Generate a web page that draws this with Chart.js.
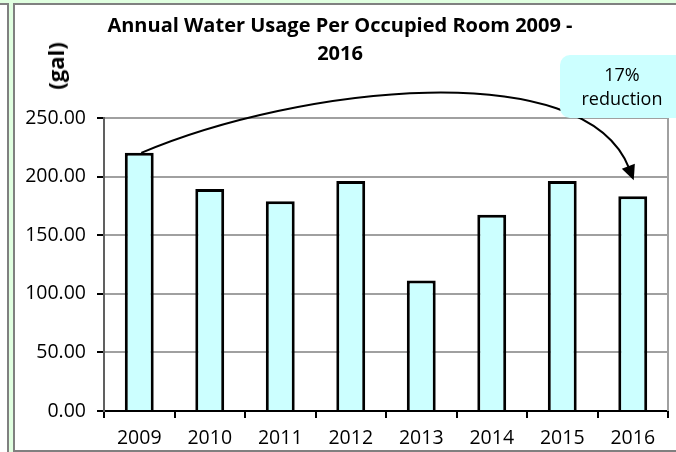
<!DOCTYPE html>
<html lang="en">
<head>
  <meta charset="UTF-8" />
  <title>Annual Water Usage Per Occupied Room</title>
  <script src="https://cdn.jsdelivr.net/npm/chart.js"></script>
  <style>
    body {
      margin: 0;
      width: 676px;
      height: 452px;
      position: relative;
      overflow: hidden;
      background: #fff;
      font-family: 'Open Sans', sans-serif;
    }
    .frame { position: absolute; }
    .green { background: #e0ffe0; }
    .gray  { background: #808080; }
    .chart-box {
      position: absolute;
      left: 15px;
      top: 5px;
      width: 661px;
      height: 445px;
      background: #fff;
    }
    .title {
      position: absolute;
      left: 0;
      width: 680px;
      text-align: center;
      font-weight: bold;
      font-size: 20px;
      line-height: 28px;
      color: #000;
    }
    .unit {
      position: absolute;
      left: 55px;
      top: 66px;
      transform: translate(-50%, -50%) rotate(-90deg);
      font-weight: bold;
      font-size: 22px;
      white-space: nowrap;
    }
    .note {
      position: absolute;
      left: 560px;
      top: 55px;
      width: 128px;
      height: 63px;
      background: #ccffff;
      border-radius: 10px;
    }
    .note div {
      position: absolute;
      left: 0;
      width: 124px;
      text-align: center;
      font-size: 18px;
      line-height: 24px;
    }
  </style>
</head>
<body>
  <!-- outer frame -->
  <div class="frame green" style="left:0;top:0;width:676px;height:3px"></div>
  <div class="frame gray" style="left:0;top:3px;width:676px;height:2px"></div>
  <div class="frame gray" style="left:7px;top:3px;width:8px;height:449px"></div>
  <div class="frame green" style="left:9px;top:0;width:4px;height:452px"></div>
  <div class="frame gray" style="left:13px;top:450px;width:663px;height:2px"></div>

  <div class="chart-box">
    <canvas id="chart" width="661" height="445"></canvas>
  </div>

  <div class="title" style="top:11px">Annual Water Usage Per Occupied Room 2009 -</div>
  <div class="title" style="top:39px">2016</div>
  <div class="unit">(gal)</div>

  <div class="note">
    <div style="top:7px">17%</div>
    <div style="top:31px">reduction</div>
  </div>

  <script>
    const years = ['2009', '2010', '2011', '2012', '2013', '2014', '2015', '2016'];
    const usage = [220.3, 189.5, 178.9, 196.3, 111.4, 167.5, 196.3, 183.2];
    const yTicks = [0, 50, 100, 150, 200, 250];

    const tickFont = { family: 'Open Sans', size: 19.5 };

    // right edge of plot area
    const plotBorder = {
      id: 'plotBorder',
      beforeDatasetsDraw(chart) {
        const { ctx, chartArea } = chart;
        ctx.save();
        ctx.strokeStyle = '#a0a0a0';
        ctx.lineWidth = 2;
        ctx.beginPath();
        ctx.moveTo(chartArea.right, chartArea.top);
        ctx.lineTo(chartArea.right, chartArea.bottom);
        ctx.stroke();
        ctx.restore();
      }
    };

    // curved arrow from first bar to last bar
    const reductionArrow = {
      id: 'reductionArrow',
      afterDatasetsDraw(chart) {
        const { ctx, scales } = chart;
        const last = years.length - 1;
        const sx = scales.x.getPixelForValue(0) + 2;
        const sy = scales.y.getPixelForValue(usage[0]);
        const ex = scales.x.getPixelForValue(last) + 1;
        const ey = scales.y.getPixelForValue(usage[last]) - 16;
        const c1x = sx + 158, c1y = sy - 67;
        const c2x = ex - 49,  c2y = ey - 126;

        let dx = ex - c2x, dy = ey - c2y;
        const len = Math.hypot(dx, dy);
        dx /= len; dy /= len;
        const headLen = 15, headW = 7;
        const bx = ex - dx * headLen, by = ey - dy * headLen;

        ctx.save();
        ctx.strokeStyle = '#000';
        ctx.fillStyle = '#000';
        ctx.lineWidth = 2;
        ctx.beginPath();
        ctx.moveTo(sx, sy);
        ctx.bezierCurveTo(c1x, c1y, c2x, c2y, bx + dx * 2, by + dy * 2);
        ctx.stroke();

        ctx.beginPath();
        ctx.moveTo(ex, ey);
        ctx.lineTo(bx - dy * headW, by + dx * headW);
        ctx.lineTo(bx + dy * headW, by - dx * headW);
        ctx.closePath();
        ctx.fill();
        ctx.restore();
      }
    };

    new Chart(document.getElementById('chart'), {
      type: 'bar',
      data: {
        labels: years,
        datasets: [{
          data: usage,
          backgroundColor: '#ccffff',
          borderColor: '#000',
          borderWidth: 3,
          categoryPercentage: 1,
          barPercentage: 0.41
        }]
      },
      options: {
        responsive: false,
        animation: false,
        devicePixelRatio: 1,
        layout: { padding: { top: 113, right: 8, left: 0, bottom: 0 } },
        plugins: {
          legend: { display: false },
          tooltip: { enabled: false }
        },
        scales: {
          x: {
            grid: {
              drawOnChartArea: false,
              drawTicks: true,
              tickLength: 7,
              color: '#000',
              lineWidth: 2,
              offset: true
            },
            border: { color: '#000', width: 2 },
            ticks: { font: tickFont, color: '#000', padding: 9 },
            afterFit(s) { s.height = 39; }
          },
          y: {
            min: yTicks[0],
            max: yTicks[yTicks.length - 1],
            afterBuildTicks(s) { s.ticks = yTicks.map(v => ({ value: v })); },
            grid: { color: '#a0a0a0', lineWidth: 2, tickColor: '#000', tickLength: 7 },
            border: { color: '#606060', width: 2 },
            ticks: {
              font: tickFont,
              color: '#000',
              padding: 11,
              callback: v => v.toFixed(2)
            },
            afterFit(s) { s.width = 89; }
          }
        }
      },
      plugins: [plotBorder, reductionArrow]
    });
  </script>
</body>
</html>
